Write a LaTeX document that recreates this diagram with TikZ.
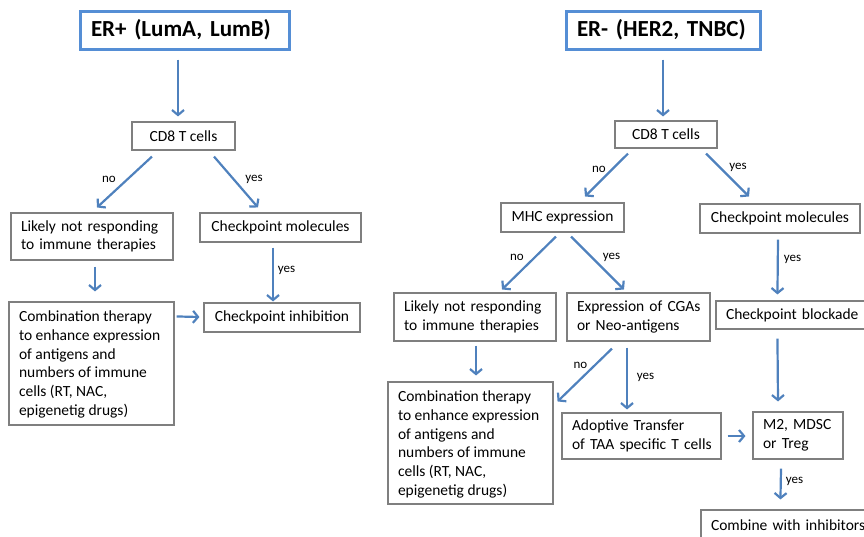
\documentclass[tikz,border=0pt]{standalone}
\usepackage{fontspec}
\setmainfont{Carlito}
\usetikzlibrary{arrows.meta,calc}
\definecolor{arrblue}{HTML}{4F81BD}
\definecolor{ttlblue}{HTML}{558ED5}
\definecolor{boxgray}{HTML}{7F7F7F}
\newcommand{\tline}[1]{\mbox{#1}}
\begin{document}
\begin{tikzpicture}[x=1pt,y=-1pt,
  box/.style={draw=boxgray, line width=1.1pt, fill=white, inner xsep=10pt, inner ysep=0pt,
    align=center, font=\fontsize{15.5}{18.7}\selectfont},
  lbox/.style={box, align=left},
  ttl/.style={draw=ttlblue, line width=3pt, fill=white, inner xsep=11pt, inner ysep=0pt,
    align=left, font=\bfseries\fontsize{23}{27}\selectfont},
  arr/.style={draw=arrblue, line width=2.2pt, -{Straight Barb[length=5pt,width=12pt]}},
  lab/.style={inner sep=0pt, font=\fontsize{13}{15}\selectfont}]
\useasboundingbox (0,0) rectangle (864,536);
\clip (0,0) rectangle (864,536);

% ---------- left tree ----------
\node[ttl, minimum width=209pt, minimum height=38pt, text width=187pt] (t1) at (184.5,30) {\tline{ER+ (LumA, LumB)}};
\node[box, minimum width=103pt, minimum height=28pt] (c1) at (183.5,136) {CD8 T cells};
\node[lbox, minimum width=162pt, minimum height=47pt, text width=142pt] (l1) at (92,236.5) {\tline{Likely not responding}\\\tline{to immune therapies}};
\node[box, minimum width=161pt, minimum height=29pt] (k1) at (280.5,227.5) {Checkpoint molecules};
\node[box, minimum width=165pt, minimum height=123pt, inner sep=0pt] (m1) at (91.5,363.5)
  {\parbox[c][105pt][t]{145pt}{\raggedright \tline{Combination therapy}\\\tline{to enhance expression}\\\tline{of antigens and}\\\tline{numbers of immune}\\\tline{cells (RT, NAC,}\\\tline{epigenetig drugs)}}};
\node[box, minimum width=156pt, minimum height=29pt] (i1) at (282,317.5) {Checkpoint inhibition};

\draw[arr] ($(t1.south)+(-6.5,9)$) -- ($(c1.north)+(-5.5,-5)$);
\draw[arr] ($(c1.south)+(-31.5,6)$) -- ($(l1.north)+(5,-5)$);
\draw[arr] ($(c1.south)+(30.5,6)$) -- ($(k1.north)+(-22.5,-5)$);
\draw[arr] ($(l1.south)+(3,6)$) -- ($(m1.north)+(3.5,-10)$);
\draw[arr] ($(k1.south)+(-7.5,5)$) -- ($(i1.north)+(-9,-1)$);
\draw[arr] ($(m1.north east)+(2,15)$) -- ($(i1.west)+(-4,-0.5)$);

\node[lab] (n1) at (109,179) {no};
\node[lab] (y1) at (254,179) {yes};
\node[lab] (y1b) at (286.5,270) {yes};

% ---------- right tree ----------
\node[ttl, minimum width=194pt, minimum height=38pt, text width=172pt] (t2) at (663,30) {\tline{ER- (HER2, TNBC)}};
\node[box, minimum width=102pt, minimum height=27pt] (c2) at (666,134.5) {CD8 T cells};
\node[box, minimum width=123pt, minimum height=29pt] (mh) at (562.5,217.5) {MHC expression};
\node[box, minimum width=160pt, minimum height=29pt] (k2) at (780,218.5) {Checkpoint molecules};
\node[lbox, minimum width=162pt, minimum height=48pt, text width=142pt] (l2) at (475,317) {\tline{Likely not responding}\\\tline{to immune therapies}};
\node[lbox, minimum width=143pt, minimum height=48pt, text width=123pt] (e2) at (638.5,317) {\tline{Expression of CGAs}\\\tline{or Neo-antigens}};
\node[lbox, minimum width=158pt, minimum height=28pt, text width=138pt] (b2) at (795,315) {\tline{Checkpoint blockade}};
\node[box, minimum width=165pt, minimum height=122pt, inner sep=0pt] (m2) at (470.5,443)
  {\parbox[c][104pt][t]{145pt}{\raggedright \tline{Combination therapy}\\\tline{to enhance expression}\\\tline{of antigens and}\\\tline{numbers of immune}\\\tline{cells (RT, NAC,}\\\tline{epigenetig drugs)}}};
\node[lbox, minimum width=159pt, minimum height=46pt, text width=139pt] (a2) at (641.5,436) {\tline{Adoptive Transfer}\\\tline{of TAA specific T cells}};
\node[lbox, minimum width=90pt, minimum height=47pt, text width=70pt] (r2) at (798,435.5) {\tline{M2, MDSC}\\\tline{or Treg}};
\node[lbox, minimum width=173pt, minimum height=30pt, text width=153pt] (w2) at (787.5,525) {\tline{Combine with inhibitors}};

\draw[arr] ($(t2.south)+(0,9)$) -- ($(c2.north)+(-3,-4)$);
\draw[arr] ($(c2.south)+(-38,5)$) -- ($(mh.north)+(22.5,-6)$);
\draw[arr] ($(c2.south)+(40,5)$) -- ($(k2.north)+(-31,-7)$);
\draw[arr] ($(mh.south)+(-6.5,4)$) -- ($(l2.north)+(27,-3)$);
\draw[arr] ($(mh.south)+(8.5,4)$) -- ($(e2.north)+(-14.5,-3)$);
\draw[arr] ($(k2.south)+(-2,6)$) -- ($(b2.north west)+(62,-6)$);
\draw[arr] ($(l2.south)+(1,4)$) -- ($(m2.north)+(5.5,-6)$);
\draw[arr] ($(e2.south)+(-26.5,7)$) -- ($(m2.north east)+(4,20)$);
\draw[arr] ($(e2.south)+(-11.5,6)$) -- ($(a2.north)+(-14.5,-3)$);
\draw[arr] ($(b2.south west)+(62,9)$) -- ($(r2.north)+(-20,-10)$);
\draw[arr] ($(a2.east)+(6,0)$) -- ($(r2.west)+(-7,0.5)$);
\draw[arr] ($(r2.south)+(-17,9)$) -- ($(w2.north west)+(80,-10)$);

\node[lab] (n2) at (599,169) {no};
\node[lab] (y2) at (738,167) {yes};
\node[lab] (n3) at (517,257) {no};
\node[lab] (y3) at (611.5,257) {yes};
\node[lab] (y4) at (792.5,259) {yes};
\node[lab] (n4) at (580.5,365) {no};
\node[lab] (y5) at (645.5,377) {yes};
\node[lab] (y6) at (794.5,481) {yes};
\end{tikzpicture}
\end{document}
